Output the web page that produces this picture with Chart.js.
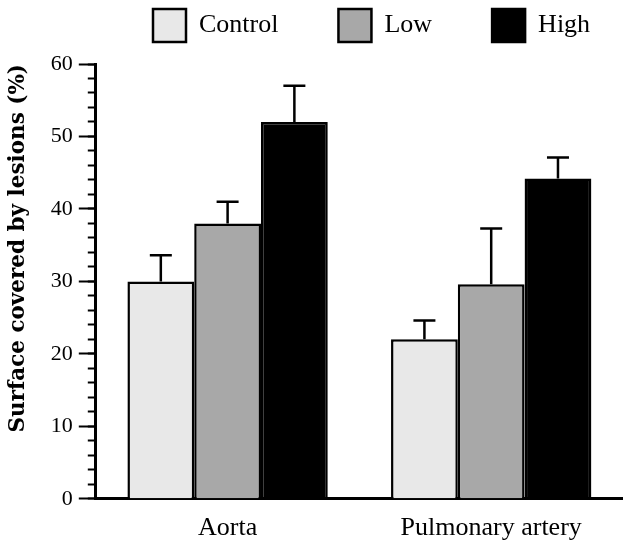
<!DOCTYPE html>
<html>
<head>
<meta charset="utf-8">
<script src="https://cdn.jsdelivr.net/npm/chart.js@4/dist/chart.umd.min.js"></script>
<style>
    body { margin: 0; background: #fff; }
</style>
</head>
<body>
<canvas id="myChart" width="623" height="543"></canvas>
<script>
const categories = ['Aorta', 'Pulmonary artery'];
const control = [30, 22];
const low = [38, 29.6];
const high = [52, 44.2];
const controlErr = [3.6, 2.6];
const lowErr = [3, 7.7];
const highErr = [5, 2.9];

const serif = '"Liberation Serif", serif';

// error bars on top of each bar
const errorBars = {
    id: 'errorBars',
    afterDatasetsDraw(chart) {
        const ctx = chart.ctx;
        const y = chart.scales.y;
        chart.data.datasets.forEach((ds, i) => {
            chart.getDatasetMeta(i).data.forEach((bar, j) => {
                const top = y.getPixelForValue(ds.data[j] + ds.errors[j]);
                ctx.save();
                ctx.strokeStyle = '#000';
                ctx.lineWidth = 2.5;
                ctx.beginPath();
                ctx.moveTo(bar.x, bar.y);
                ctx.lineTo(bar.x, top);
                ctx.moveTo(bar.x - 11, top);
                ctx.lineTo(bar.x + 11, top);
                ctx.stroke();
                ctx.restore();
            });
        });
    }
};

// move legend row to where the original has it
const legendPlace = {
    id: 'legendPlace',
    afterLayout(chart) {
        chart.legend.left = 93;
        chart.legend.right = 900;
        chart.legend.top = -51;
    }
};

const ctx = document.getElementById('myChart');
const myChart = new Chart(ctx, {
    type: 'bar',
    data: {
        labels: categories,
        datasets: [{
            label: 'Control',
            data: control,
            errors: controlErr,
            backgroundColor: '#e8e8e8',
            borderColor: '#000',
            borderWidth: 2.5,
        },
        {
            label: 'Low',
            data: low,
            errors: lowErr,
            backgroundColor: '#a8a8a8',
            borderColor: '#000',
            borderWidth: 2.5,
        },
        {
            label: 'High',
            data: high,
            errors: highErr,
            backgroundColor: '#000',
            borderColor: '#000',
            borderWidth: 2.5,
        }]
    },
    plugins: [errorBars, legendPlace],
    options: {
        responsive: false,
        animation: false,
        layout: {
            padding: {left: 0, right: 0, top: 0, bottom: -15},
        },
        datasets: {
            bar: {
                categoryPercentage: 0.76,
                barPercentage: 1,
            }
        },
        plugins: {
            tooltip: {enabled: false},
            legend: {
                position: 'top',
                align: 'start',
                maxHeight: 64,
                labels: {
                    boxWidth: 33,
                    boxHeight: 33,
                    padding: 60,
                    color: '#000',
                    font: {family: serif, size: 26},
                },
            },
        },
        scales: {
            x: {
                grid: {display: false, drawTicks: false},
                border: {color: '#000', width: 3},
                ticks: {
                    color: '#000',
                    padding: 14,
                    font: {family: serif, size: 26},
                },
            },
            y: {
                position: 'left',
                weight: 1,
                min: 0,
                max: 60,
                ticks: {
                    stepSize: 10,
                    color: '#000',
                    padding: 6,
                    font: {family: serif, size: 22},
                },
                grid: {
                    drawOnChartArea: false,
                    tickLength: 17,
                    tickWidth: 2,
                    tickColor: '#000',
                },
                border: {color: '#000', width: 3},
                title: {
                    display: true,
                    align: 'end',
                    text: 'Surface covered by lesions (%)',
                    color: '#000',
                    font: {family: '"DejaVu Serif", serif', size: 21.5, weight: 'bold'},
                    padding: {top: 6, bottom: 13},
                },
            },
            yMinor: {
                position: 'left',
                weight: 0,
                min: 0,
                max: 60,
                ticks: {stepSize: 2, display: false},
                grid: {
                    drawOnChartArea: false,
                    tickLength: 8,
                    tickWidth: 2,
                    tickColor: '#000',
                },
                border: {display: false},
                afterFit: (scale) => { scale.width = 0; },
            },
        }
    }
});
</script>
</body>
</html>
